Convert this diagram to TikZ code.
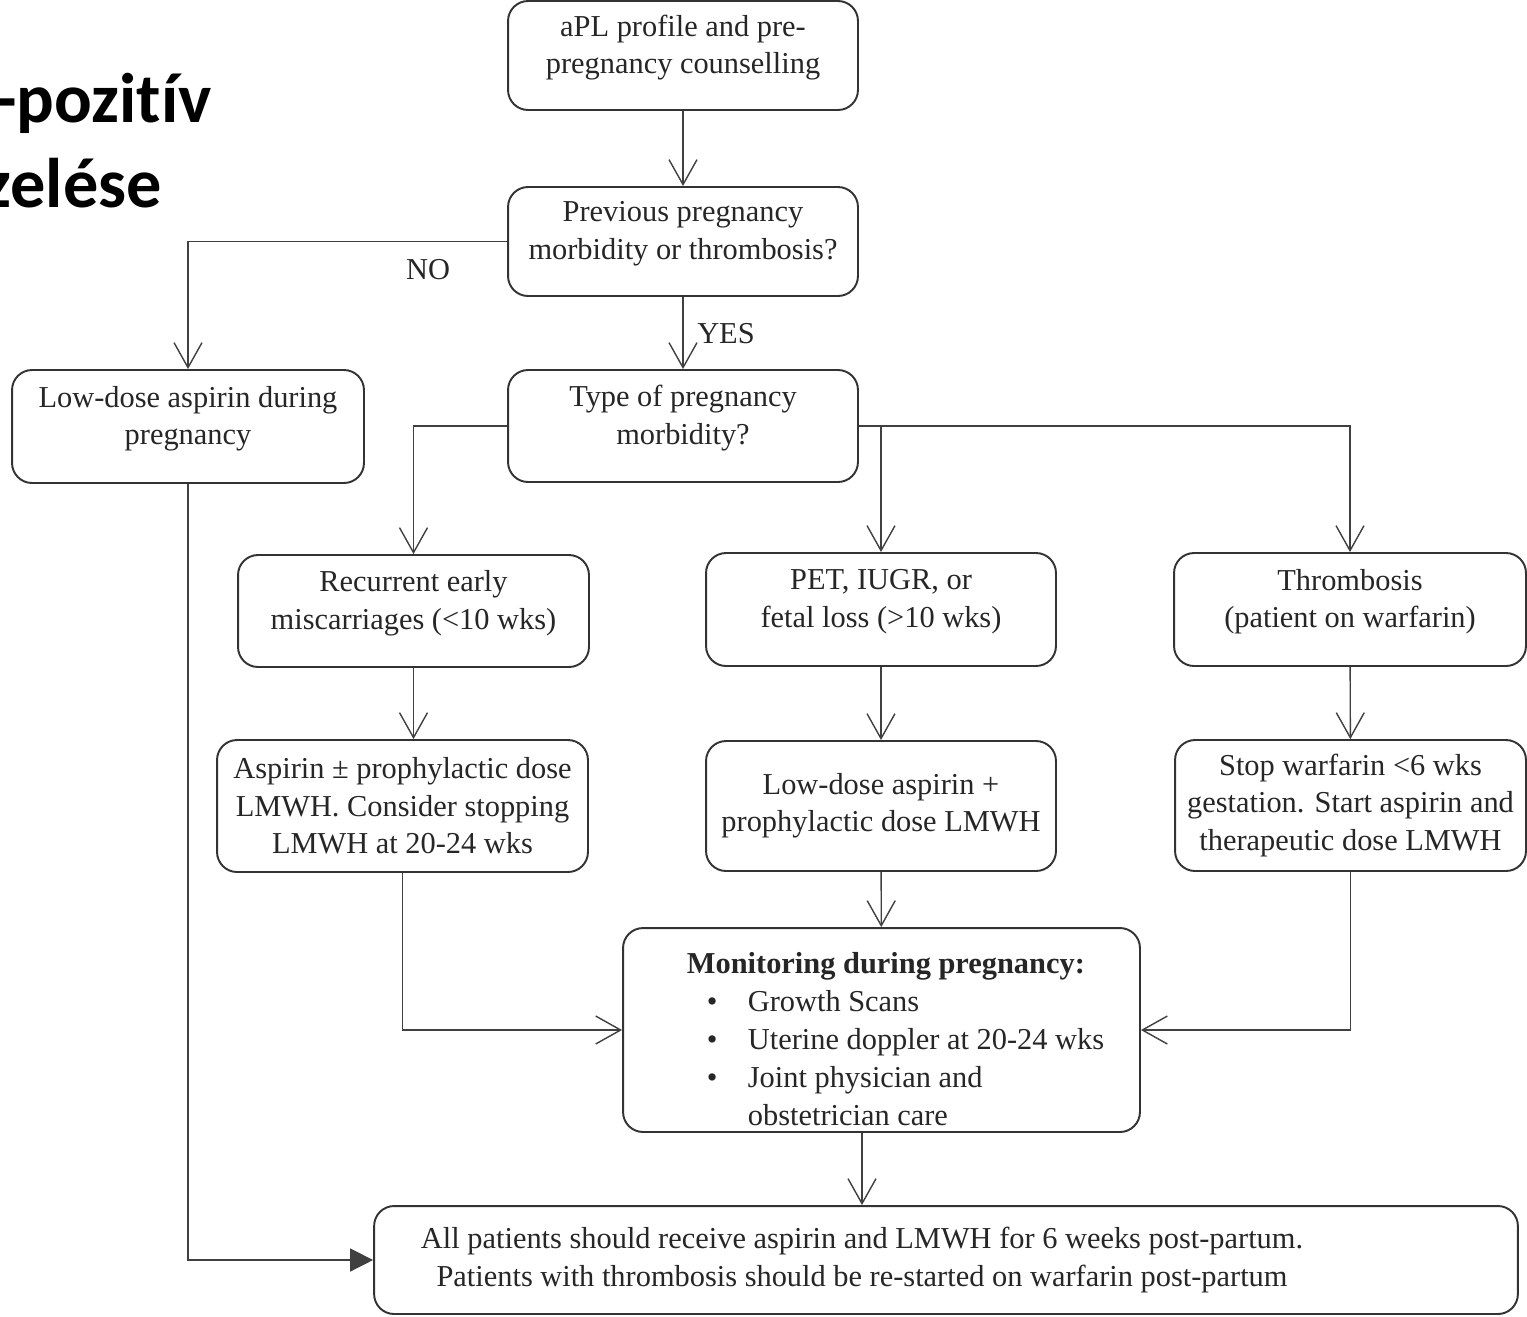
\documentclass[tikz,border=0pt]{standalone}
\usepackage{fontspec}
\setmainfont{Liberation Serif}
\newfontfamily\titlefont[Ligatures={NoCommon}]{Carlito}
\usetikzlibrary{arrows.meta,positioning}

\begin{document}
\begin{tikzpicture}[
  x=0.02cm, y=-0.02cm,
  font=\fontsize{17.3}{21.3}\selectfont,
  box/.style={draw=black!80,line width=1.1pt,rounded corners=0.4cm,align=center,inner sep=2pt,text=black!85},
  hi/.style={text depth=0.45cm},
  arr/.style={draw=black!75,line width=0.8pt,-{Straight Barb[length=0.5cm,width=0.56cm]}},
  tri/.style={draw=black!75,line width=0.8pt,-{Triangle[length=0.46cm,width=0.46cm]}},
  lbl/.style={text=black!85},
  ttl/.style={font=\titlefont\bfseries\fontsize{40}{48}\selectfont,anchor=base east}
]
\useasboundingbox (0,0) rectangle (1527,1316);

% ---- title (cut at the left edge) ----
\node[ttl] (ttlA) at (218,122) {-pozitív};
\node[ttl] (ttlB) at (168,207) {zelése};

% ---- top of the chart ----
\node[box,hi,minimum width=7cm,minimum height=2.18cm] (apl) at (683,55.5)
  {aPL profile and pre-\\pregnancy counselling};
\node[box,hi,minimum width=7cm,minimum height=2.18cm] (prev) at (683,241.5)
  {Previous pregnancy\\morbidity or thrombosis?};
\node[box,hi,minimum width=7.04cm,minimum height=2.26cm] (low) at (188,426.5)
  {Low-dose aspirin during\\pregnancy};
\node[box,hi,minimum width=7cm,minimum height=2.24cm] (type) at (683,426)
  {Type of pregnancy\\morbidity?};

% ---- three kinds of morbidity ----
\node[box,hi,minimum width=7.02cm,minimum height=2.24cm] (rec) at (413.5,611)
  {Recurrent early\\miscarriages (<10 wks)};
\node[box,hi,minimum width=7cm,minimum height=2.26cm] (pet) at (881,609.5)
  {PET, IUGR, or\\fetal loss (>10 wks)};
\node[box,hi,minimum width=7.04cm,minimum height=2.26cm] (thr) at (1350,609.5)
  {Thrombosis\\(patient on warfarin)};

% ---- treatment ----
\node[box,minimum width=7.42cm,minimum height=2.64cm] (asp) at (402.5,806)
  {Aspirin ± prophylactic dose\\LMWH. Consider stopping\\LMWH at 20-24 wks};
\node[box,minimum width=7cm,minimum height=2.6cm] (lda) at (881,806)
  {Low-dose aspirin +\\prophylactic dose LMWH};
\node[box,minimum width=7.02cm,minimum height=2.62cm] (stop) at (1350.5,805.5)
  {Stop warfarin <6 wks\\gestation. Start aspirin and\\therapeutic dose LMWH};

% ---- monitoring and post-partum ----
\node[box,align=left,minimum width=10.34cm,minimum height=4.08cm,font=\fontsize{17.3}{21.6}\selectfont] (mon) at (881.5,1030)
  {\rule{0pt}{22pt}\hspace*{0.56cm}\textbf{Monitoring during pregnancy:}\\
   \hspace*{0.96cm}\makebox[0.82cm][l]{\textbullet}Growth Scans\\
   \hspace*{0.96cm}\makebox[0.82cm][l]{\textbullet}Uterine doppler at 20-24 wks\\
   \hspace*{0.96cm}\makebox[0.82cm][l]{\textbullet}Joint physician and\\
   \hspace*{1.78cm}obstetrician care};
\node[box,minimum width=22.88cm,minimum height=2.16cm] (all) at (946,1260)
  {All patients should receive aspirin and LMWH for 6 weeks post-partum.\hspace*{3.36cm}\\
   Patients with thrombosis should be re-started on warfarin post-partum\hspace*{3.36cm}};

% ---- connectors ----
\draw[arr] (apl) -- (prev);
\draw[arr] (prev.west) -| (low.north);
\node[lbl] (no) at (428,270) {NO};
\draw[arr] (prev) -- (type);
\node[lbl] (yes) at (726,334) {YES};
\draw[arr] (type.west) -| (rec.north);
\draw[arr] (type.east) -| (thr.north);
\draw[arr] (type.east -| pet.north) -- (pet.north);
\draw[arr] (rec) -- (rec.south |- asp.north);
\draw[arr] (pet) -- (lda);
\draw[arr] (thr) -- (stop);
\draw[arr] (lda) -- (mon);
\draw[arr] (asp.south) |- (mon.west);
\draw[arr] (stop.south) |- (mon.east);
\coordinate (monout) at ([xshift=-0.39cm]mon.south);
\draw[arr] (monout) -- (monout |- all.north);
\draw[tri] (low.south) |- (all.west);

\end{tikzpicture}
\end{document}
